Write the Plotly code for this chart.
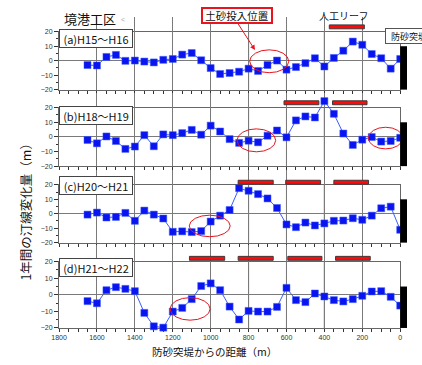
import plotly.graph_objects as go

W, H = 422, 365

# survey stations: distance from the sand-retaining jetty (m)
distance = [1650, 1600, 1550, 1500, 1450, 1400, 1350, 1300, 1250, 1200, 1150, 1100,
            1050, 1000, 950, 900, 850, 800, 750, 700, 650, 600, 550, 500,
            450, 400, 350, 300, 250, 200, 150, 100, 50, 0]

# yearly shoreline change (m)
change_h15_h16 = [-3.0, -3.3, 2.6, 4.0, -0.1, 0.1, -0.6, -1.2, 0.6, 1.2, 4.2, 5.3,
                  0.3, -5.1, -9.2, -8.5, -7.6, -5.5, -7.1, -3.0, 0.1, -6.2, -4.4, -1.7,
                  1.7, -4.0, 1.9, 6.9, 13.2, 11.0, 4.6, 1.7, -5.5, 1.2]
change_h18_h19 = [-2.1, -4.4, 0.3, -2.8, -8.2, -6.6, 1.2, -6.4, 1.7, 1.2, 2.6, 4.8,
                  1.5, 7.7, 3.7, -1.5, -4.1, -2.6, -3.7, 0.8, 4.4, -0.3, 11.3, 14.0,
                  13.3, 24.5, 15.8, 2.3, -5.5, -1.9, -0.1, -3.2, -2.8, -0.6]
change_h20_h21 = [-0.6, 0.8, -2.6, -2.2, 0.6, -4.9, 2.2, -0.6, -3.3, -12.5, -12.2, -12.7,
                  -12.0, -5.4, -1.3, 2.6, 17.7, 15.9, 13.6, 10.6, 4.0, -7.4, -9.3, -6.1,
                  -8.1, -6.7, -4.9, -4.7, -3.1, -4.2, -1.3, 3.8, 4.9, -11.1]
change_h21_h22 = [-3.8, -5.1, 2.8, 4.6, 3.6, 2.2, -10.9, -19.0, -19.8, -10.1, -7.9, -2.6,
                  5.3, 6.9, 2.8, -7.1, -14.9, -9.7, -10.1, -10.1, -7.3, 4.2, -3.2, -4.4,
                  0.8, -1.0, -3.2, -4.0, -2.6, -0.6, 2.0, 2.2, -1.2, -6.5]

panel_labels = ["(a)H15～H16", "(b)H18～H19", "(c)H20～H21", "(d)H21～H22"]
series = [change_h15_h16, change_h18_h19, change_h20_h21, change_h21_h22]

# artificial reef extents (m from jetty) per period
reefs = [
    [(374, 189)],
    [(613, 429), (357, 175)],
    [(855, 670), (604, 420), (350, 167)],
    [(1112, 926), (855, 670), (593, 413), (341, 158)],
]
# highlighted sediment zones (x from/to in m, y from/to in m)
zones = [
    [(794, 588, -8.3, 7.5)],
    [(861, 657, -10.2, 5.5), (168, -14, -8.2, 6.6)],
    [(1113, 897, -15.9, -1.0)],
    [(1214, 1003, -15.3, -1.7)],
]
# jetty top level in each panel (m)
jetty_top = [10, 10, 10, 5]

X_MAX = 1800
Y_MIN, Y_MAX = -20, 20
Y_OVER = 30  # headroom for values plotted above the frame

# panel frames in pixels: (top, bottom)
frames = [(28.3, 87.3), (105.7, 165.3), (184.4, 243.3), (262.7, 330.3)]
label_top = [25.7, 104.0, 175.0, 258.7]
left_px, right_px = 52.3, 401.7
reef_gap = [3.0, 3.0, 0.7, 1.4]


def py(p):
    return 1 - p / H


def px(p):
    return p / W


def xdom(m):
    return (X_MAX - m) / X_MAX


def ydom(v):
    return (v - Y_MIN) / (Y_MAX - Y_MIN)


JP = "Noto Sans CJK JP"
NUM = "Liberation Sans"

fig = go.Figure()
shapes = []
annotations = []
layout = {}

for i in range(4):
    n = "" if i == 0 else str(i + 1)
    xa, ya = "x" + n, "y" + n
    top, bot = frames[i]
    y_lo, y_hi = py(bot), py(top)
    unit = (y_hi - y_lo) / (Y_MAX - Y_MIN)

    # traces go on a hidden axis with extra headroom so peaks above the frame stay visible
    hidden = "yaxis" + str(5 + i)
    layout[hidden] = dict(
        domain=[y_lo, y_hi + (Y_OVER - Y_MAX) * unit], range=[Y_MIN, Y_OVER],
        anchor=xa, visible=False, showgrid=False, zeroline=False,
    )
    fig.add_trace(go.Scatter(
        x=distance, y=series[i], xaxis=xa, yaxis="y" + str(5 + i),
        mode="lines+markers", cliponaxis=False,
        line=dict(color="#3a5cff", width=1),
        marker=dict(symbol="square", size=7, color="#0a14f0",
                    line=dict(color="#3a5cff", width=0.5)),
        hoverinfo="skip",
    ))
    layout["xaxis" + n] = dict(
        domain=[px(left_px), px(right_px)], range=[X_MAX, 0], anchor=ya,
        showline=True, mirror=True, linecolor="#666", linewidth=1,
        showgrid=True, gridcolor="#7a7a7a", gridwidth=1,
        tick0=0, dtick=200, ticks="outside", ticklen=3, tickcolor="#333",
        minor=dict(dtick=50, ticks="outside", ticklen=3, tickcolor="#333", showgrid=False),
        zeroline=False, showticklabels=(i == 3),
        tickfont=dict(family=NUM, size=7, color="#333"),
    )
    layout["yaxis" + n] = dict(
        domain=[y_lo, y_hi], range=[Y_MIN, Y_MAX], anchor=xa,
        showline=True, mirror=True, linecolor="#666", linewidth=1,
        showgrid=False, zeroline=True, zerolinecolor="#7a7a7a", zerolinewidth=1,
        dtick=10, ticks="outside", ticklen=4, tickcolor="#333",
        minor=dict(dtick=5, ticks="outside", ticklen=2, tickcolor="#333"),
        tickfont=dict(family=NUM, size=7, color="#333"),
    )
    # darker grid lines at 800 / 600 / 400 m
    for g in (800, 600, 400):
        shapes.append(dict(type="line", xref=xa, yref=ya, x0=g, x1=g,
                           y0=Y_MIN, y1=Y_MAX, line=dict(color="#111", width=1),
                           layer="below"))
    # artificial reefs above the frame
    for (a0, a1) in reefs[i]:
        shapes.append(dict(type="rect", xref="paper", yref="paper",
                           x0=px(left_px) + xdom(a0) * px(right_px - left_px),
                           x1=px(left_px) + xdom(a1) * px(right_px - left_px),
                           y0=py(top - reef_gap[i]), y1=py(top - reef_gap[i] - 4),
                           fillcolor="#ff0a0a", line=dict(color="#3a3a3a", width=1),
                           layer="above"))
    # highlighted zones
    for (z0, z1, v0, v1) in zones[i]:
        shapes.append(dict(type="circle", xref="paper", yref="paper",
                           x0=px(left_px) + xdom(z0) * px(right_px - left_px),
                           x1=px(left_px) + xdom(z1) * px(right_px - left_px),
                           y0=y_lo + ydom(v0) * (y_hi - y_lo),
                           y1=y_lo + ydom(v1) * (y_hi - y_lo),
                           line=dict(color="#e8141e", width=1), layer="above"))
    # sand-retaining jetty
    shapes.append(dict(type="rect", xref="paper", yref="paper",
                       x0=px(right_px), x1=px(right_px + 7),
                       y0=y_lo, y1=y_lo + ydom(jetty_top[i]) * (y_hi - y_lo),
                       fillcolor="black", line=dict(width=0), layer="above"))
    # period label box
    annotations.append(dict(
        text=panel_labels[i], xref="paper", yref="paper",
        x=px(left_px), y=py(label_top[i]),
        xanchor="left", yanchor="top", showarrow=False,
        font=dict(family=JP, size=11, color="#111"),
        bgcolor="white", bordercolor="#444", borderwidth=1, borderpad=1,
        width=70, height=15,
    ))

annotations += [
    dict(text="境港工区", xref="paper", yref="paper", x=px(84), y=py(15),
         xanchor="center", yanchor="middle", showarrow=False,
         font=dict(family=JP, size=13, color="#111")),
    dict(text="<", xref="paper", yref="paper", x=px(118), y=py(16),
         xanchor="center", yanchor="middle", showarrow=False,
         font=dict(family=NUM, size=7, color="#aaa")),
    dict(text="土砂投入位置", xref="paper", yref="paper", x=px(198), y=py(3.3),
         xanchor="left", yanchor="top", showarrow=False,
         font=dict(family=JP, size=10.5, color="#111"),
         bgcolor="white", bordercolor="#e8141e", borderwidth=2, borderpad=1,
         width=66, height=11),
    dict(text="", xref="paper", yref="paper", x=px(253), y=py(47),
         showarrow=True, ax=-18, ay=-28, arrowcolor="#e8141e",
         arrowwidth=1, arrowhead=2, arrowsize=1),
    dict(text="人工リーフ", xref="paper", yref="paper", x=px(344), y=py(11.7),
         xanchor="center", yanchor="middle", showarrow=False,
         font=dict(family=JP, size=10, color="#111")),
    dict(text="防砂突堤", xref="paper", yref="paper", x=px(386), y=py(24.3),
         xanchor="left", yanchor="top", showarrow=False,
         font=dict(family=JP, size=9, color="#111"),
         bgcolor="white", bordercolor="#555", borderwidth=1, borderpad=1,
         width=44, height=12),
    dict(text="防砂突堤からの距離（m）", xref="paper", yref="paper", x=px(211), y=py(354),
         xanchor="center", yanchor="middle", showarrow=False,
         font=dict(family=JP, size=10.5, color="#111")),
    dict(text="1年間の汀線変化量（m）", xref="paper", yref="paper", x=px(18), y=py(209),
         xanchor="center", yanchor="middle", showarrow=False, textangle=-90,
         font=dict(family=JP, size=12.5, color="#111")),
]

fig.update_layout(
    width=W, height=H, margin=dict(l=0, r=0, t=0, b=0),
    paper_bgcolor="white", plot_bgcolor="rgba(0,0,0,0)", showlegend=False,
    shapes=shapes, annotations=annotations, **layout,
)

fig.write_html("out.html")
